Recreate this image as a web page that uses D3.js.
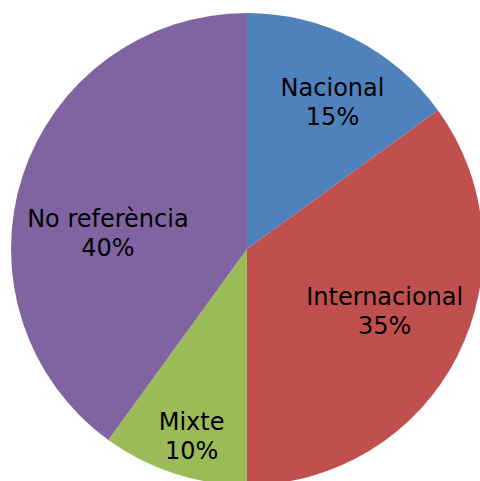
<!DOCTYPE html>
<html>
<head>
<meta charset="utf-8">
<script src="https://cdn.jsdelivr.net/npm/d3@7"></script>
<style>
  html, body { margin: 0; padding: 0; background: #fff; }
  svg { display: block; }
</style>
</head>
<body>
<div id="chart"></div>
<script>
// chart data
var categories = ['Nacional', 'Internacional', 'Mixte', 'No referència'];
var values = [15, 35, 10, 40];
var colors = ['#4F81BD', '#C0504D', '#9BBB59', '#8064A2'];

var width = 480, height = 481;
var cx = 247, cy = 249, radius = 236;

// label placement (Excel "best fit"): distance from centre and angle nudge in degrees
var labelDist = [170, 151, 195, 140];
var labelTurn = [3.2, -2.8, -1.5, -11.5];

var svg = d3.select('#chart')
  .append('svg')
  .attr('width', width)
  .attr('height', height);

var g = svg.append('g')
  .attr('transform', 'translate(' + cx + ',' + cy + ')');

var pie = d3.pie().sort(null).value(function(d) { return d; });
var arc = d3.arc().innerRadius(0).outerRadius(radius);
var arcs = pie(values);

g.selectAll('path.slice')
  .data(arcs)
  .enter().append('path')
  .attr('class', 'slice')
  .attr('d', arc)
  .attr('fill', function(d, i) { return colors[i]; });

var total = d3.sum(values);

var labels = g.selectAll('text.lbl')
  .data(arcs)
  .enter().append('text')
  .attr('class', 'lbl')
  .attr('text-anchor', 'middle')
  .attr('font-family', 'DejaVu Sans, sans-serif')
  .attr('font-size', 24)
  .attr('fill', '#000')
  .attr('transform', function(d, i) {
    var a = (d.startAngle + d.endAngle) / 2 + labelTurn[i] * Math.PI / 180;
    var x = Math.sin(a) * labelDist[i];
    var y = -Math.cos(a) * labelDist[i];
    return 'translate(' + x + ',' + (y - 6) + ')';
  });

labels.append('tspan')
  .attr('x', 0)
  .attr('dy', 0)
  .text(function(d, i) { return categories[i]; });

labels.append('tspan')
  .attr('x', 0)
  .attr('dy', 29)
  .text(function(d) { return Math.round(d.value / total * 100) + '%'; });
</script>
</body>
</html>
